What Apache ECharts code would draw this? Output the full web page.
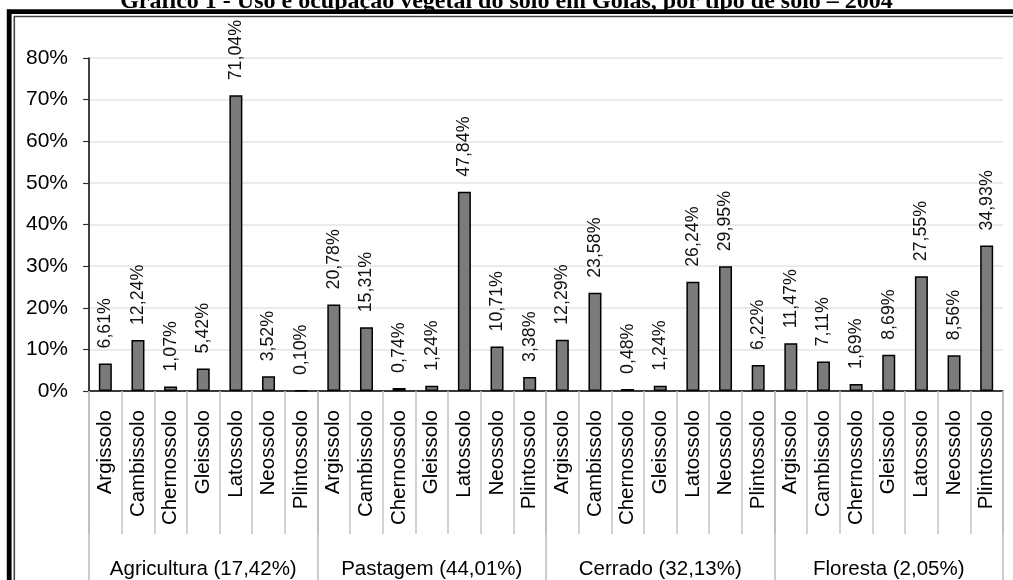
<!DOCTYPE html>
<html>
<head>
<meta charset="utf-8">
<script src="https://cdn.jsdelivr.net/npm/echarts@6/dist/echarts.min.js"></script>
<style>
  html, body { margin: 0; padding: 0; background: #fff; }
  #chart { width: 1013px; height: 580px; }
</style>
</head>
<body>
<div id="chart"></div>
<script>
// Soil types repeated within each land-use group
const soilTypes = ['Argissolo', 'Cambissolo', 'Chernossolo', 'Gleissolo', 'Latossolo', 'Neossolo', 'Plintossolo'];
const groupLabels = ['Agricultura (17,42%)', 'Pastagem (44,01%)', 'Cerrado (32,13%)', 'Floresta (2,05%)'];

// Share of each soil type (%) per land use
const agricultura = [6.61, 12.24, 1.07, 5.42, 71.04, 3.52, 0.10];
const pastagem    = [20.78, 15.31, 0.74, 1.24, 47.84, 10.71, 3.38];
const cerrado     = [12.29, 23.58, 0.48, 1.24, 26.24, 29.95, 6.22];
const floresta    = [11.47, 7.11, 1.69, 8.69, 27.55, 8.56, 34.93];

const titleText = 'Gráfico 1 - Uso e ocupação vegetal do solo em Goiás, por tipo de solo – 2004';

const categories = [].concat(soilTypes, soilTypes, soilTypes, soilTypes);
const values = [].concat(agricultura, pastagem, cerrado, floresta);

const sans = '"Liberation Sans", Arial, sans-serif';
const pct = v => v.toFixed(2).replace('.', ',') + '%';

const chart = echarts.init(document.getElementById('chart'), null, { renderer: 'canvas' });

chart.setOption({
  animation: false,
  backgroundColor: '#ffffff',
  grid: { left: 89, right: 10, top: 58, bottom: 188, containLabel: false },
  graphic: [
    {
      type: 'text',
      left: 'center',
      top: -10,
      z: 10,
      style: {
        text: titleText,
        font: 'bold 24px "Liberation Serif", "Times New Roman", serif',
        fill: '#000'
      }
    },
    {
      type: 'rect',
      z: 10,
      shape: { x: 9.2, y: 11.7, width: 1100, height: 700 },
      style: { fill: 'none', stroke: '#000', lineWidth: 4.8 }
    },
    {
      type: 'rect',
      z: 10,
      shape: { x: 14.3, y: 16.5, width: 1100, height: 700 },
      style: { fill: 'none', stroke: '#444', lineWidth: 1.6 }
    }
  ],
  xAxis: [
    {
      type: 'category',
      data: categories,
      position: 'bottom',
      axisLine: { show: true, lineStyle: { color: '#000', width: 1.5 } },
      axisTick: { show: true, interval: 0, length: 143, lineStyle: { color: '#c4c4c4', width: 1.5 } },
      axisLabel: {
        interval: 0,
        rotate: 90,
        margin: 19,
        fontFamily: sans,
        fontSize: 20.5,
        color: '#000'
      },
      splitLine: { show: false }
    },
    {
      type: 'category',
      data: groupLabels,
      position: 'bottom',
      axisLine: { show: false },
      axisTick: { show: true, interval: 0, length: 200, lineStyle: { color: '#bcbcbc', width: 1.5 } },
      axisLabel: {
        interval: 0,
        margin: 168,
        fontFamily: sans,
        fontSize: 20.5,
        color: '#000'
      },
      splitLine: { show: false }
    }
  ],
  yAxis: {
    type: 'value',
    min: 0,
    max: 80,
    interval: 10,
    axisLine: { show: true, lineStyle: { color: '#000', width: 1.5 } },
    axisTick: { show: true, length: 6, lineStyle: { color: '#333', width: 1.2 } },
    axisLabel: {
      formatter: '{value}%',
      margin: 21,
      fontFamily: sans,
      fontSize: 21,
      color: '#000'
    },
    splitLine: { show: true, lineStyle: { color: '#e4e4e4', width: 1.5 } }
  },
  series: [
    {
      type: 'bar',
      xAxisIndex: 0,
      data: values,
      barWidth: 13,
      itemStyle: { color: '#7b7b7b', borderColor: '#000', borderWidth: 1.5 },
      label: {
        show: true,
        position: 'top',
        rotate: 90,
        align: 'left',
        verticalAlign: 'middle',
        distance: 15,
        fontFamily: sans,
        fontSize: 17.8,
        color: '#111',
        formatter: p => pct(p.value)
      }
    }
  ]
});
</script>
</body>
</html>
